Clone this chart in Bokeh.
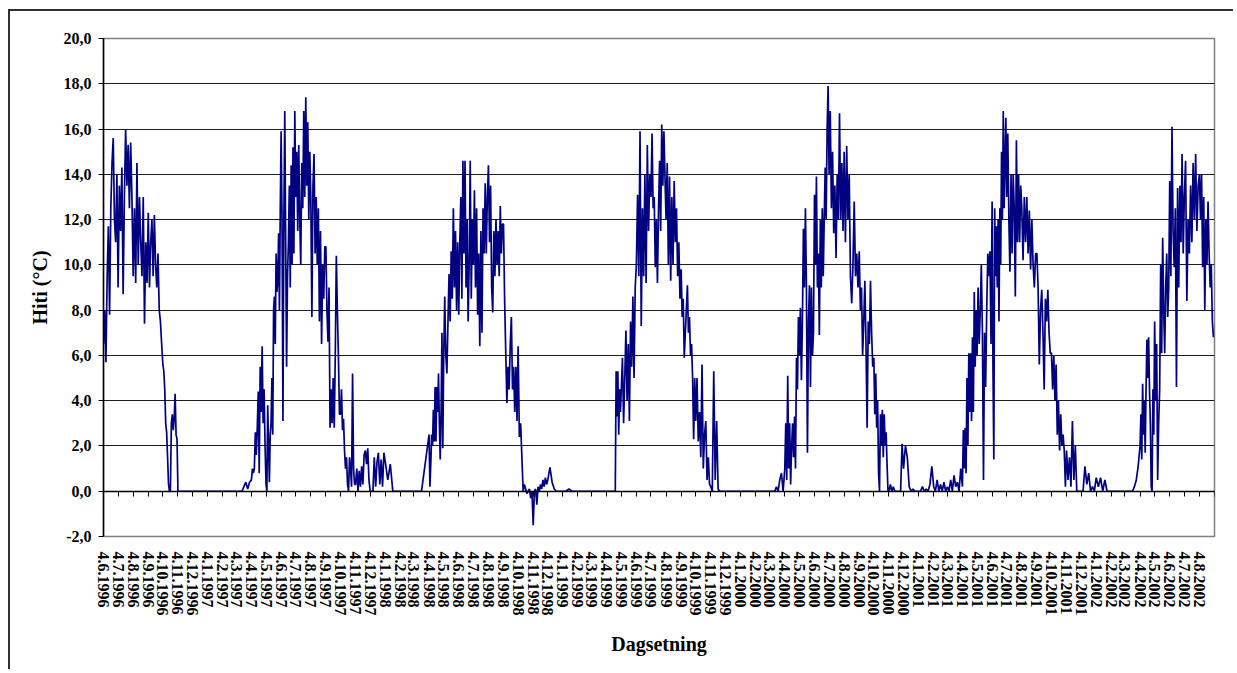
import datetime as dt
from bokeh.plotting import figure
from bokeh.models import ColumnDataSource, FixedTicker, LinearAxis, Range1d
from bokeh.embed import file_html
from bokeh.resources import INLINE

# Water temperature (deg C); each inner list = readings between the 4th of one
# month and the 4th of the next, in time order.
START = dt.date(1996, 6, 4)

temp_1996 = [  # Jun .. Dec
    [6.5, 8.0, 5.7, 9.5, 11.7, 7.8, 12.5, 14.5, 15.6, 12.0, 11.0, 14.0],
    [9.0, 13.5, 11.5, 14.3, 8.7, 13.0, 16.0, 13.5, 15.3, 12.5, 15.4, 13.0],
    [9.5, 12.5, 9.2, 14.5, 10.0, 13.0, 11.0, 9.5, 13.0, 7.4, 11.0, 9.2],
    [12.3, 9.0, 11.0, 12.0, 9.5, 12.2, 10.0, 9.0, 10.5, 8.0, 7.5, 6.5],
    [5.6, 5.3, 4.5, 3.0, 2.6, 1.5, 0.3, 0.0, 0.0, 3.0, 3.4, 2.7, 3.2, 4.3, 2.5, 2.3],
    [0.0, 0.0],
    [0.0, 0.0],
]
temp_1997 = [  # Jan .. Dec
    [0.0, 0.0],
    [0.0, 0.0],
    [0.0, 0.0, 0.0, 0.0, 0.2, 0.4, 0.1, 0.4],
    [0.5, 1.0, 0.8, 1.0, 2.6, 1.6, 2.8, 4.4, 0.8, 5.5, 3.5, 6.4, 3.0, 4.5, 2.0],
    [0.3, 0.0, 3.8, 2.0, 0.4, 2.5, 3.0, 5.0, 2.5, 8.0, 8.6, 6.5, 10.5, 8.8, 9.3, 11.4, 8.0, 12.5],
    [15.9, 12.0, 3.1, 12.0, 16.8, 11.0, 5.5, 9.5, 11.0, 13.5, 9.0, 14.4, 10.0, 15.2, 10.5, 16.8],
    [13.0, 15.0, 11.5, 15.3, 12.0, 10.0, 14.5, 12.5, 16.8, 13.0, 17.4, 13.5, 16.3, 12.0, 15.0],
    [13.0, 7.7, 13.5, 14.9, 10.5, 13.0, 10.0, 12.5, 7.5, 11.5, 6.5, 10.0, 8.5, 10.8],
    [10.8, 8.0, 6.6, 9.0, 2.8, 4.5, 3.0, 5.0, 2.8, 6.0, 10.4, 8.0, 6.0, 3.4],
    [3.4, 4.5, 2.7, 3.2, 1.8, 1.0, 1.5, 0.3, 0.0, 1.5, 1.0, 0.2, 5.2, 1.0, 0.3],
    [0.3, 1.0, 0.0, 0.9, 0.2, 1.1, 0.3, 1.6, 1.8, 1.2, 1.9, 0.5],
    [0.0, 0.0, 0.0, 1.5, 0.2, 1.3, 1.7, 0.3, 1.4, 0.2, 1.7],
]
temp_1998 = [
    [1.3, 0.5, 1.2, 0.0, 0.0, 0.0],
    [0.0, 0.0],
    [0.0, 0.0],
    [2.5, 0.2, 1.2, 2.5, 2.0, 3.6, 2.2, 4.6, 2.2, 4.6, 3.5, 5.2, 3.0, 1.4, 3.5, 7.0, 1.9],
    [5.8, 8.6, 6.0, 5.2, 7.5, 9.6, 7.5, 10.6, 8.5, 12.5, 9.0, 11.5, 8.0, 11.0],
    [7.8, 11.0, 13.0, 8.5, 14.6, 10.5, 14.6, 9.0, 12.0, 7.5, 10.0, 14.6, 8.5, 12.0],
    [10.0, 13.3, 9.0, 12.5, 7.8, 10.5, 6.4, 11.5, 7.0, 12.5, 10.5, 13.6, 10.5, 13.0],
    [14.4, 11.0, 13.5, 9.0, 7.9, 11.5, 9.5, 12.0, 10.0, 11.5, 9.5, 12.6, 10.5, 11.8],
    [11.8, 8.4, 6.1, 3.9, 5.5, 4.5, 6.5, 7.7, 4.5, 5.5, 3.5, 5.5, 3.1],
    [6.4, 2.4, 3.0, 1.5, 0.0, 0.3, 0.1, -0.1, 0.0, 0.1, -0.3, 0.0],
    [-1.5, 0.0, 0.1, -0.6, 0.2, 0.0, 0.3, 0.1, 0.5, 0.2, 0.6, 0.3],
    [0.5, 1.05, 0.4, 0.1, 0.0, 0.0, 0.0],
]
temp_1999 = [
    [0.0, 0.0, 0.1, 0.0, 0.0],
    [0.0, 0.0],
    [0.0, 0.0],
    [0.0, 0.0, 0.0, 0.0, 0.0, 0.0, 0.0, 0.0, 0.0, 0.0, 0.0, 5.3, 3.3, 5.3, 2.5, 4.5, 3.5],
    [4.5, 5.9, 3.0, 5.0, 7.1, 4.0, 6.5, 3.1, 7.5, 5.5, 8.6, 5.0, 9.0],
    [10.0, 13.1, 9.5, 15.9, 7.3, 12.5, 9.5, 14.0, 9.2, 15.3, 11.5, 14.0],
    [13.0, 15.8, 12.5, 13.0, 9.9, 12.0, 9.2, 12.4, 14.6, 11.5, 16.2, 13.5, 15.9, 13.9],
    [12.0, 14.5, 10.0, 13.9, 9.3, 13.0, 10.0, 13.7, 11.0, 12.5, 9.5, 11.0, 8.5],
    [9.8, 7.7, 8.5, 5.9, 7.0, 8.0, 9.1, 7.0, 7.7, 6.0, 6.5, 5.0, 2.3, 5.0],
    [3.1, 5.0, 2.2, 3.5, 1.5, 5.6, 1.0, 2.5, 3.1, 0.5, 1.5, 0.3],
    [0.2, 0.0, 5.3, 0.5, 3.1, 0.1, 0.0, 0.0, 0.0, 0.0],
    [0.0, 0.0],
]
temp_2000 = [
    [0.0, 0.0],
    [0.0, 0.0],
    [0.0, 0.0, 0.0, 0.0, 0.2, 0.0, 0.5, 0.8, 0.0],
    [1.0, 3.0, 0.5, 5.1, 1.0, 3.0, 0.3, 2.0, 3.0, 1.5, 3.3, 1.0, 5.9, 4.5, 7.7],
    [6.0, 8.1, 4.9, 7.5, 11.6, 9.0, 12.5, 9.0, 1.7, 7.5, 9.1, 4.6, 9.0, 6.0, 7.0],
    [13.1, 10.0, 13.9, 9.0, 10.5, 6.9, 12.0, 9.0, 12.5, 9.5, 12.0, 14.3, 12.0, 16.0, 17.9],
    [14.0, 16.8, 12.5, 15.0, 11.4, 13.5, 10.3, 14.0, 12.0, 16.7, 12.0, 14.5, 11.5],
    [15.0, 11.0, 15.25, 12.0, 14.0, 9.5, 8.3, 10.0, 12.8, 9.5, 10.5, 9.0],
    [10.6, 8.0, 9.0, 6.0, 7.5, 9.3, 6.5, 2.8, 7.5, 6.5, 9.3, 7.0, 5.5],
    [5.9, 3.4, 5.2, 2.8, 4.0, 0.8, 0.0, 3.4, 2.0, 3.6, 1.5, 3.4, 2.0, 2.6, 1.2, 0.0],
    [0.0, 0.3, 0.0, 0.2, 0.0, 0.0, 0.0, 0.0, 0.0, 2.1],
    [1.0, 2.0, 1.5, 0.2, 0.0, 0.1, 0.0, 0.0],
]
temp_2001 = [
    [0.0, 0.0, 0.2, 0.0, 0.1, 0.0, 0.3, 1.1],
    [0.2, 0.0, 0.5, 0.0, 0.3, 0.0, 0.4, 0.0],
    [0.2, 0.0, 0.5, 0.0, 0.7, 0.2, 0.4, 0.0, 1.0],
    [0.2, 2.7, 1.0, 2.8, 0.8, 5.0, 2.0, 6.1, 3.5, 6.1, 3.1, 6.8, 3.5, 8.8, 5.5, 8.0],
    [6.0, 9.0, 6.5, 8.0, 10.0, 7.0, 0.5, 7.0, 4.6, 8.0, 10.5, 9.5, 10.6, 6.5],
    [12.8, 5.5, 1.4, 12.5, 9.5, 11.7, 9.0, 12.0, 7.5, 12.5, 10.0, 15.0, 12.0, 16.8, 12.5, 14.5, 16.5],
    [13.0, 15.8, 12.0, 9.7, 14.0, 10.5, 14.0, 12.5, 8.6, 15.5, 11.0, 14.0, 11.0, 13.5],
    [12.5, 10.2, 13.0, 11.0, 13.0, 10.5, 12.4, 9.8, 12.0, 10.0, 9.0, 10.5],
    [10.5, 9.0, 5.6, 8.0, 8.9, 7.0, 4.5, 8.5, 7.5, 8.9, 7.0, 6.1],
    [6.1, 4.5, 6.0, 4.0, 5.6, 2.5, 4.0, 1.8, 3.4, 2.0, 2.5, 1.8, 0.2],
    [1.8, 0.5, 1.5, 0.2, 3.1, 0.5, 2.0, 0.0, 0.0, 0.0],
    [0.0, 0.0, 1.1, 0.3, 0.8, 0.0, 0.2, 0.0],
]
temp_2002 = [  # Jan .. Aug
    [0.6, 0.2, 0.6, 0.0, 0.5, 0.0, 0.0],
    [0.0, 0.0],
    [0.0, 0.0, 0.0, 0.0, 0.0, 0.2, 0.5, 1.1],
    [2.0, 3.4, 1.4, 4.75, 2.5, 4.0, 1.7, 4.5, 6.7, 5.0, 6.8, 4.5, 3.0, 0.2, 0.0, 4.5, 2.5],
    [7.5, 4.0, 6.5, 0.5, 3.0, 4.5, 10.0, 6.1, 11.2, 8.0, 6.1, 9.0, 10.5, 7.7, 9.0],
    [13.7, 9.5, 16.1, 11.5, 9.9, 12.5, 4.6, 13.4, 9.0, 13.5, 11.0, 14.9, 10.5],
    [13.0, 14.6, 8.4, 12.0, 10.5, 13.5, 11.0, 14.5, 12.0, 14.9, 11.5, 13.5],
    [14.0, 12.0, 14.0, 9.9, 13.0, 8.0, 12.0, 10.0, 12.8, 10.5, 9.0, 10.0, 7.5, 6.8],
]

seasons = [(1996, 6, temp_1996), (1997, 1, temp_1997), (1998, 1, temp_1998),
           (1999, 1, temp_1999), (2000, 1, temp_2000), (2001, 1, temp_2001),
           (2002, 1, temp_2002)]

y_ticks = [-2, 0, 2, 4, 6, 8, 10, 12, 14, 16, 18, 20]


def day_of(y, m):
    return (dt.date(y, m, 4) - START).days


def next_month(y, m):
    return (y, m + 1) if m < 12 else (y + 1, 1)


xs, ys = [], []
for year, m0, months in seasons:
    for k, vals in enumerate(months):
        m = m0 + k
        d0 = day_of(year, m)
        d1 = day_of(*next_month(year, m))
        n = len(vals)
        for i, v in enumerate(vals):
            xs.append(d0 + (d1 - d0) * i / n)
            ys.append(v)

# monthly ticks 4.6.1996 .. 4.9.2002
tick_days, tick_labels = [], {}
y, m = 1996, 6
while (y, m) <= (2002, 9):
    d = day_of(y, m)
    tick_days.append(d)
    tick_labels[d] = f"4.{m}.{y}" if (y, m) != (2002, 9) else ""
    y, m = next_month(y, m)

src = ColumnDataSource(data=dict(x=xs, y=ys))

FONT = "Liberation Serif"

p = figure(width=1225, height=660, output_backend="svg", toolbar_location=None,
           x_range=Range1d(0, day_of(2002, 9)), y_range=Range1d(-2, 20),
           min_border_left=93, min_border_right=21, min_border_top=27,
           min_border_bottom=135, background_fill_color="white",
           border_fill_color="white")
p.styles = {"border-top": "2px solid #303030", "border-left": "2px solid #303030",
            "margin-left": "8px", "margin-top": "9px"}

p.outline_line_color = "#808080"
p.outline_line_width = 1.5

p.xgrid.visible = False
p.ygrid.ticker = FixedTicker(ticks=y_ticks)
p.ygrid.grid_line_color = "#1e1e1e"
p.ygrid.grid_line_width = 1

# y axis
ya = p.yaxis[0]
ya.ticker = FixedTicker(ticks=y_ticks)
ya.major_label_overrides = {v: f"{v:.1f}".replace(".", ",") for v in y_ticks}
ya.major_label_text_font = FONT
ya.major_label_text_font_style = "bold"
ya.major_label_text_font_size = "16px"
ya.major_label_text_color = "black"
ya.axis_line_color = "black"
ya.axis_line_width = 1.5
ya.major_tick_out = 5
ya.major_tick_in = 0
ya.major_tick_line_color = "black"
ya.minor_tick_line_color = None
ya.major_label_standoff = 7
ya.axis_label = "Hiti (°C)"
ya.axis_label_text_font = FONT
ya.axis_label_text_font_style = "bold"
ya.axis_label_text_font_size = "20px"
ya.axis_label_text_color = "black"
ya.axis_label_standoff = 10

# x axis with labels at the bottom of the plot area
xa = p.xaxis[0]
xa.ticker = FixedTicker(ticks=tick_days)
xa.major_label_overrides = tick_labels
xa.major_label_orientation = "vertical"
xa.major_label_text_font = FONT
xa.major_label_text_font_style = "bold"
xa.major_label_text_font_size = "16px"
xa.major_label_text_color = "black"
xa.axis_line_color = None
xa.major_tick_line_color = None
xa.minor_tick_line_color = None
xa.major_label_standoff = 9
xa.axis_label = "Dagsetning"
xa.axis_label_text_font = FONT
xa.axis_label_text_font_style = "bold"
xa.axis_label_text_font_size = "20px"
xa.axis_label_text_color = "black"
xa.axis_label_standoff = 14

# category axis line crossing at 0 with tick marks
zero_axis = LinearAxis(fixed_location=0, ticker=FixedTicker(ticks=tick_days),
                       major_label_overrides={d: "" for d in tick_days},
                       major_label_text_font_size="0px",
                       axis_line_color="black", axis_line_width=1.5,
                       major_tick_in=5, major_tick_out=0,
                       major_tick_line_color="black", minor_tick_line_color=None)
p.add_layout(zero_axis, "above")

p.line(x="x", y="y", source=src, line_color="#000080", line_width=1.7)

open("out.html", "w").write(file_html(p, INLINE))
